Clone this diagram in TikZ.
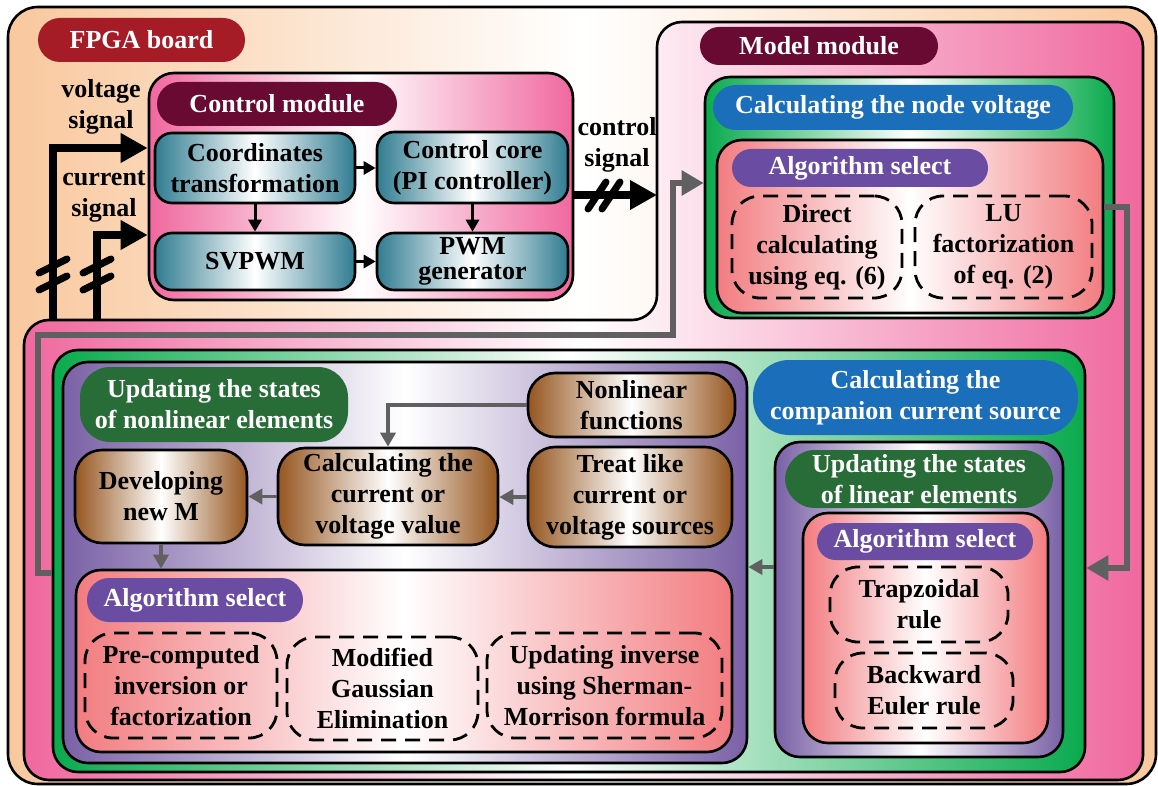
\documentclass[tikz,border=0pt]{standalone}
\usepackage{fontspec}
\setmainfont{Liberation Serif}
\usetikzlibrary{arrows.meta,shapes.misc}
\definecolor{peach}{RGB}{249,200,158}
\definecolor{mpink}{RGB}{240,104,158}
\definecolor{fpgared}{RGB}{165,28,38}
\definecolor{maroon}{RGB}{104,10,50}
\definecolor{tealc}{RGB}{48,124,145}
\definecolor{grn}{RGB}{10,170,78}
\definecolor{blu}{RGB}{27,110,186}
\definecolor{salm}{RGB}{242,124,128}
\definecolor{ppill}{RGB}{106,76,162}
\definecolor{pbox}{RGB}{122,97,166}
\definecolor{dgreen}{RGB}{40,108,56}
\definecolor{brn}{RGB}{150,86,32}
\definecolor{gline}{RGB}{96,96,96}
\newcommand\bx[7]{%
  \node[#1, minimum width={(#5)-(#3)}, minimum height={(#6)-(#4)}] (#2)
    at ({((#3)+(#5))/2},{((#4)+(#6))/2}) {#7};}
\tikzset{
  blk/.style={draw=black, line width=2.6pt, inner sep=0pt, align=center},
  peachbg/.style={blk, rounded corners=30pt, left color=peach, right color=peach, middle color=white},
  ctrlbox/.style={blk, rounded corners=25pt, left color=mpink, right color=mpink, middle color=white},
  greenbox/.style={blk, rounded corners=25pt, left color=grn, right color=grn, middle color=white},
  purplebox/.style={blk, rounded corners=25pt, left color=pbox, right color=pbox, middle color=white},
  salmbox/.style={blk, rounded corners=25pt, left color=salm, right color=salm, middle color=white},
  tealbox/.style={blk, rounded corners=17pt, left color=tealc, right color=tealc, middle color=white},
  brownbox/.style={blk, rounded corners=27pt, left color=brn, right color=brn, middle color=white},
  dashbox/.style={draw=black, line width=2.8pt, dash pattern=on 15pt off 9pt, rounded corners=28pt, inner sep=0pt, align=center},
  pill/.style={rounded rectangle, inner sep=0pt, text=white, align=center},
  rpill/.style={rounded corners=30pt, inner sep=0pt, text=white, align=center},
  fpgapill/.style={pill, fill=fpgared},
  maroonpill/.style={pill, fill=maroon},
  bluepill/.style={pill, fill=blu},
  bluerpill/.style={rpill, fill=blu, rounded corners=36pt},
  purplepill/.style={pill, fill=ppill},
  dgreenpill/.style={rpill, fill=dgreen},
  lbl/.style={inner sep=0pt, align=center},
  bigarrow/.style={line width=7.5pt, -{Triangle[length=27pt,width=28pt]}},
  thinarrow/.style={line width=3pt, -{Triangle[length=12pt,width=13pt]}},
  grayarrow/.style={draw=gline, line width=6pt, -{Triangle[length=22pt,width=24pt]}},
  graythin/.style={draw=gline, line width=3.5pt, -{Triangle[length=14pt,width=15pt]}},
  tick/.style={line width=7pt, line cap=round},
}
\begin{document}
\begin{tikzpicture}[x=1pt,y=-1pt,font=\fontsize{26}{31}\selectfont\bfseries]
\useasboundingbox (0,0) rectangle (1158,786);
% FPGA board
\bx{peachbg}{fpga}{8}{7}{1156}{784}{}
% model module L-shape
\draw[draw=black, line width=2.6pt, rounded corners=25pt, left color=mpink, right color=mpink, middle color=white]
  (900,22) -- (1143,22) -- (1143,780) -- (24,780) -- (24,320) -- (657,320) -- (657,22) -- cycle;
\coordinate (mmleft) at (657,195);
\coordinate (vin) at (53,320);
\coordinate (cin) at (97,320);
\bx{fpgapill}{fpgalbl}{38}{18}{245}{62}{FPGA board}
% control module
\bx{ctrlbox}{ctrl}{149}{73}{573}{300}{}
\bx{maroonpill}{ctrllbl}{157}{82}{397}{126}{Control module}
\bx{tealbox}{coord}{155}{133}{355}{203}{Coordinates\\transformation}
\bx{tealbox}{core}{377}{132}{568}{203}{Control core\\(PI controller)}
\bx{tealbox}{svpwm}{155}{233}{355}{290}{SVPWM}
\bx{tealbox}{pwm}{377}{233}{568}{290}{PWM\\[-6pt]generator}
% labels
\node[lbl] (vlbl) at (101,107) {voltage\\signal};
\node[lbl] (clbl) at (104,197) {current\\signal};
\node[lbl] (cslbl) at (617,145) {control\\signal};
% model module top
\bx{maroonpill}{modlbl}{700}{27}{938}{65}{Model module}
\bx{greenbox}{gtop}{705}{77}{1114}{318}{}
\bx{bluepill}{nvlbl}{713}{85}{1073}{130}{Calculating the node voltage}
\bx{salmbox}{algtop}{717}{140}{1103}{313}{}
\bx{purplepill}{astop}{732}{149}{988}{187}{Algorithm select}
\bx{dashbox}{direct}{732}{196}{902}{298}{Direct\\calculating\\using eq. (6)}
\bx{dashbox}{lu}{915}{196}{1092}{298}{LU\\factorization\\of eq. (2)}
% bottom part
\bx{greenbox}{gbot}{53}{350}{1085}{772}{}
\bx{purplebox}{pnl}{63}{362}{747}{763}{}
\bx{dgreenpill}{nllbl}{80}{367}{348}{442}{Updating the states\\of nonlinear elements}
\bx{brownbox}{nlf}{528}{373}{735}{437}{Nonlinear\\functions}
\bx{brownbox}{trt}{528}{447}{732}{547}{Treat like\\current or\\voltage sources}
\bx{brownbox}{calc}{278}{448}{498}{545}{Calculating the\\current or\\voltage value}
\bx{brownbox}{dev}{75}{450}{247}{543}{Developing\\new M}
\bx{salmbox}{algbot}{76}{570}{732}{752}{}
\bx{purplepill}{asbot}{87}{578}{303}{622}{Algorithm select}
\bx{dashbox}{pre}{85}{633}{277}{738}{Pre-computed\\inversion or\\factorization}
\bx{dashbox}{mge}{287}{637}{478}{740}{Modified\\Gaussian\\Elimination}
\bx{dashbox}{sm}{487}{633}{722}{738}{Updating inverse\\using Sherman-\\Morrison formula}
% right part
\bx{bluerpill}{cclbl}{753}{360}{1078}{435}{Calculating the\\companion current source}
\bx{purplebox}{plin}{775}{442}{1063}{757}{}
\bx{dgreenpill}{lnlbl}{785}{450}{1053}{508}{Updating the states\\of linear elements}
\bx{salmbox}{alglin}{803}{513}{1048}{743}{}
\bx{purplepill}{aslin}{817}{523}{1033}{560}{Algorithm select}
\bx{dashbox}{trap}{830}{567}{1008}{642}{Trapzoidal\\rule}
\bx{dashbox}{beul}{835}{653}{1013}{728}{Backward\\Euler rule}
% connectors: inputs
\draw[bigarrow] (vin) |- ([yshift=38.5pt]ctrl.west);
\draw[bigarrow] (cin) |- ([yshift=-48.5pt]ctrl.west);
\draw[bigarrow] ([yshift=-8.5pt]ctrl.east) -- (mmleft);
\foreach \yy in {266,283} {
  \draw[tick] (39,\yy+7) -- (67,\yy-7);
  \draw[tick] (83,\yy+7) -- (111,\yy-7);
}
\draw[tick] (588,209) -- (606,182);
\draw[tick] (602,209) -- (620,182);
% control module arrows
\draw[thinarrow] (coord.east) -- (core.west|-coord.east);
\draw[thinarrow] (coord.south) -- (svpwm.north);
\draw[thinarrow] (core.south) -- (pwm.north);
\draw[thinarrow] (svpwm.east) -- (pwm.west);
% gray loops
\draw[grayarrow] ([yshift=-12pt]gbot.west) -| (38,335) -| (673,183) -- ([yshift=14.5pt]gtop.west);
\draw[grayarrow] ([yshift=19.5pt]algtop.east) -| (1127,568) -- ([yshift=-7pt]gbot.east);
% inner gray arrows
\draw[graythin] (nlf.west) -| (calc.north);
\draw[graythin] (trt.west) -- (calc.east|-trt.west);
\draw[graythin] (calc.west) -- (dev.east|-calc.west);
\draw[graythin] (dev.south) -- (dev.south|-algbot.north);
\draw[graythin] ([yshift=32.5pt]plin.west) -- ([yshift=32.5pt]plin.west -| pnl.east);
\end{tikzpicture}
\end{document}
